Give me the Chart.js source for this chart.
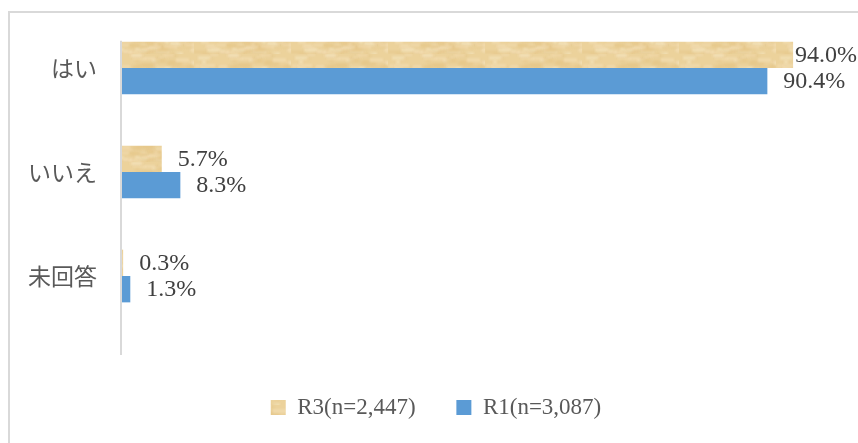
<!DOCTYPE html>
<html>
<head>
<meta charset="utf-8">
<script src="https://cdn.jsdelivr.net/npm/chart.js@4.4.1/dist/chart.umd.min.js"></script>
<style>
  html, body { margin: 0; padding: 0; background: #fff; }
  #wrap { position: relative; width: 858px; height: 443px; }
</style>
</head>
<body>
<div id="wrap"><canvas id="c" width="858" height="443"></canvas></div>
<script>
// Survey answers and shares (%) for the two survey rounds
const categories = ['はい', 'いいえ', '未回答'];
const seriesNames = ['R3(n=2,447)', 'R1(n=3,087)'];
const r3Values = [94.0, 5.7, 0.3];
const r1Values = [90.4, 8.3, 1.3];

// Parchment-like fill for the R3 bars
function parchmentPattern(ctx) {
  const w = 97, h = 27;
  const off = document.createElement('canvas');
  off.width = w; off.height = h;
  const g = off.getContext('2d');
  g.fillStyle = '#ECD29B';
  g.fillRect(0, 0, w, h);
  const tones = ['#E6C688', '#F3DEB4', '#EACB91', '#F1DAAD', '#E4C486', '#F4E2BC'];
  const hash = (a, b) => {
    const s = Math.sin(a * 12.9898 + b * 78.233) * 43758.5453;
    return s - Math.floor(s);
  };
  g.filter = 'blur(1.2px)';
  for (let k = 0; k < 90; k++) {
    const x = Math.floor(hash(k, 1) * w);
    const y = Math.floor(hash(k, 2) * h);
    const len = 4 + Math.floor(hash(k, 3) * 12);
    g.globalAlpha = 0.6;
    g.fillStyle = tones[Math.floor(hash(k, 4) * tones.length)];
    g.fillRect(x, y, len, 2 + Math.floor(hash(k, 5) * 3));
  }
  g.filter = 'none';
  g.globalAlpha = 1;
  return ctx.createPattern(off, 'repeat');
}

const canvas = document.getElementById('c');
const ctx = canvas.getContext('2d');
const r3Fill = parchmentPattern(ctx);
const r1Fill = '#5B9BD5';

const NUM_FONT = '"Liberation Serif", "DejaVu Serif", serif';
const JP_FONT = '"Noto Sans CJK JP", sans-serif';

// Light frame along the top and left edges
const framePlugin = {
  id: 'frame',
  beforeDraw(chart) {
    const c = chart.ctx;
    c.save();
    c.strokeStyle = '#D9D9D9';
    c.lineWidth = 2;
    c.beginPath();
    c.moveTo(9, chart.height);
    c.lineTo(9, 12);
    c.lineTo(chart.width, 12);
    c.stroke();
    c.restore();
  }
};

// Category axis line, starting at the top of the first bar group
const axisLinePlugin = {
  id: 'axisLine',
  afterDatasetsDraw(chart) {
    const bar = chart.getDatasetMeta(0).data[0];
    const top = bar.y - bar.height / 2 - 1;
    const a = chart.chartArea;
    const c = chart.ctx;
    c.save();
    c.strokeStyle = '#D9D9D9';
    c.lineWidth = 2;
    c.beginPath();
    c.moveTo(a.left, top);
    c.lineTo(a.left, a.bottom + 27);
    c.stroke();
    c.restore();
  }
};

// Nudge the legend a little to the right of the canvas centre
const legendShiftPlugin = {
  id: 'legendShift',
  afterLayout(chart) {
    if (chart.legend) {
      chart.legend.left += 18;
      chart.legend.right += 18;
    }
  }
};

// Percentage labels at the end of each bar
const valueLabelPlugin = {
  id: 'valueLabels',
  afterDatasetsDraw(chart) {
    const c = chart.ctx;
    c.save();
    c.font = '24px ' + NUM_FONT;
    c.fillStyle = '#404040';
    c.textBaseline = 'middle';
    c.textAlign = 'left';
    chart.data.datasets.forEach((ds, di) => {
      chart.getDatasetMeta(di).data.forEach((bar, i) => {
        const txt = ds.data[i].toFixed(1) + '%';
        const tw = c.measureText(txt).width;
        let x = bar.x + 16;
        if (x + tw > chart.width - 1) x = chart.width - 1 - tw;
        c.fillText(txt, x, bar.y + 1);
      });
    });
    c.restore();
  }
};

new Chart(ctx, {
  type: 'bar',
  data: {
    labels: categories,
    datasets: [
      { label: seriesNames[0], data: r3Values, backgroundColor: r3Fill, borderWidth: 0 },
      { label: seriesNames[1], data: r1Values, backgroundColor: r1Fill, borderWidth: 0 }
    ]
  },
  options: {
    indexAxis: 'y',
    responsive: false,
    animation: false,
    events: [],
    layout: { padding: { top: 16, right: 22, bottom: 14, left: 0 } },
    datasets: { bar: { categoryPercentage: 0.507, barPercentage: 1.0 } },
    scales: {
      x: {
        min: 0, max: 100,
        grid: { display: false },
        border: { display: false },
        ticks: { display: false },
        afterFit(s) { s.height = 56; s.paddingLeft = 0; s.paddingRight = 0; }
      },
      y: {
        grid: { display: false, drawTicks: false },
        border: { display: false },
        ticks: {
          padding: 24,
          color: '#595959',
          font: { family: JP_FONT, size: 23 }
        },
        afterFit(s) { s.width = 121; s.paddingTop = 0; s.paddingBottom = 0; }
      }
    },
    plugins: {
      legend: {
        position: 'bottom',
        labels: {
          boxWidth: 15,
          boxHeight: 15,
          padding: 12,
          color: '#595959',
          font: { family: NUM_FONT, size: 23 },
          generateLabels(chart) {
            const items = Chart.defaults.plugins.legend.labels.generateLabels(chart);
            // wider gap after the first entry
            items[0].text = items[0].text + '     ';
            return items;
          }
        }
      },
      tooltip: { enabled: false }
    }
  },
  plugins: [framePlugin, axisLinePlugin, legendShiftPlugin, valueLabelPlugin]
});
</script>
</body>
</html>
